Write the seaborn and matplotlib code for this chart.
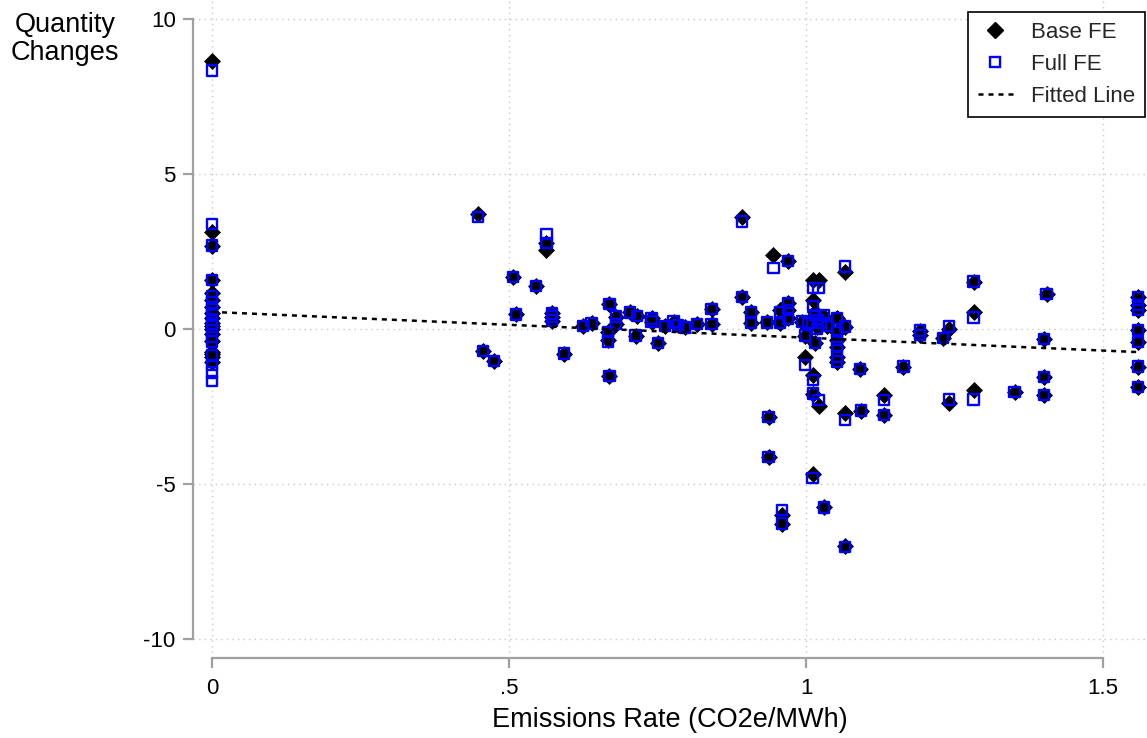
import numpy as np
import pandas as pd
import matplotlib
matplotlib.use("Agg")
import matplotlib.pyplot as plt
import seaborn as sns
from matplotlib.lines import Line2D

# ---------------- data ----------------
emissions_rate = [
    0, 0, 0, 0, 0, 0, 0, 0, 0, 0, 0, 0, 0, 0, 0, 0, 0, 0,
    0.448, 0.563, 0.563, 0.507, 0.545, 0.512, 0.572, 0.572, 0.572, 0.456,
    0.475, 0.593, 0.625, 0.639, 0.669, 0.680, 0.680, 0.667, 0.667, 0.669,
    0.704, 0.715, 0.713, 0.740, 0.740, 0.751, 0.763, 0.777, 0.785, 0.796,
    0.816, 0.841, 0.841,
    0.892, 0.945, 0.970, 1.066, 1.012, 1.021, 0.892, 0.907, 0.907, 0.934,
    0.956, 0.956, 0.970, 0.970, 0.970, 0.993, 1.004, 1.012, 1.015, 1.020,
    1.025, 1.030, 1.035, 1.018, 0.998, 0.998, 1.015, 1.012, 1.012, 1.021,
    1.052, 1.052, 1.052, 1.052, 1.052, 1.052, 1.066, 1.091, 1.164, 0.937,
    0.937, 1.011, 0.959, 0.959, 1.030, 1.066, 1.066, 1.092, 1.131, 1.131,
    1.192, 1.192, 1.241, 1.230, 1.282, 1.282, 1.405, 1.401, 1.401, 1.401,
    1.351, 1.282, 1.241, 1.559, 1.559, 1.559, 1.559, 1.559, 1.559, 1.559,
]
base_fe = [
    8.62, 3.14, 2.69, 1.58, 1.15, 0.95, 0.70, 0.50, 0.35, 0.20, 0.10, 0.00,
    -0.15, -0.40, -0.75, -0.90, -1.05, -0.80,
    3.70, 2.76, 2.55, 1.67, 1.39, 0.47, 0.53, 0.40, 0.27, -0.70,
    -1.02, -0.79, 0.10, 0.18, 0.81, 0.40, 0.16, -0.09, -0.35, -1.52,
    0.55, 0.42, -0.21, 0.34, 0.24, -0.44, 0.10, 0.24, 0.13, 0.05,
    0.16, 0.16, 0.65,
    3.62, 2.39, 2.20, 1.85, 1.58, 1.58, 1.02, 0.54, 0.20, 0.21,
    0.61, 0.20, 0.83, 0.61, 0.34, 0.24, 0.24, 0.94, 0.55, 0.30,
    0.15, 0.40, 0.10, 0.05, -0.21, -0.89, -0.46, -1.48, -2.08, -2.48,
    0.34, -0.09, -0.35, -0.57, -0.89, -1.05, 0.08, -1.30, -1.21, -2.83,
    -4.12, -4.66, -6.00, -6.27, -5.75, -7.00, -2.70, -2.63, -2.13, -2.77,
    -0.05, -0.20, 0.00, -0.30, 1.53, 0.56, 1.13, -0.32, -1.54, -2.13,
    -2.02, -1.97, -2.40, 1.04, 0.77, 0.61, -0.03, -0.43, -1.21, -1.86,
]
full_fe = [
    8.33, 3.38, 2.69, 1.58, 1.05, 0.85, 0.65, 0.45, 0.30, 0.18, 0.08, -0.05,
    -0.25, -0.40, -0.85, -1.15, -1.40, -1.67,
    3.60, 3.05, 2.76, 1.67, 1.39, 0.47, 0.50, 0.40, 0.27, -0.70,
    -1.02, -0.79, 0.10, 0.18, 0.81, 0.40, 0.16, -0.09, -0.40, -1.52,
    0.53, 0.42, -0.21, 0.34, 0.24, -0.44, 0.10, 0.24, 0.13, 0.05,
    0.16, 0.16, 0.65,
    3.46, 1.96, 2.20, 2.01, 1.31, 1.31, 1.02, 0.54, 0.20, 0.21,
    0.55, 0.20, 0.83, 0.61, 0.34, 0.24, 0.20, 0.75, 0.45, 0.30,
    0.20, 0.45, 0.10, 0.00, -0.21, -1.16, -0.46, -1.65, -2.08, -2.29,
    0.34, -0.09, -0.35, -0.57, -0.89, -1.05, 0.08, -1.30, -1.21, -2.83,
    -4.12, -4.80, -5.84, -6.27, -5.75, -7.02, -2.94, -2.63, -2.29, -2.77,
    -0.05, -0.20, 0.08, -0.30, 1.53, 0.37, 1.13, -0.32, -1.54, -2.13,
    -2.02, -2.27, -2.27, 1.04, 0.77, 0.61, -0.03, -0.43, -1.21, -1.86,
]
fit_intercept = 0.55
fit_slope = -0.83

x_ticks = [0, 0.5, 1, 1.5]
x_tick_labels = ["0", ".5", "1", "1.5"]
y_ticks = [-10, -5, 0, 5, 10]
y_tick_labels = ["-10", "-5", "0", "5", "10"]
legend_labels = ["Base FE", "Full FE", "Fitted Line"]

# ---------------- style ----------------
sns.set_theme(style="white")
plt.rcParams['font.family'] = ['Liberation Sans', 'DejaVu Sans']

W, H = 1147, 738
fig = plt.figure(figsize=(W / 100, H / 100), dpi=100)
ax = fig.add_axes([193 / W, 80 / H, 954 / W, 658 / H])

df = pd.DataFrame({"rate": emissions_rate, "base": base_fe, "full": full_fe})

BLUE = "#0000ff"
GRID = "#c8c8c8"
AXC = "#a0a0a0"

ax.set_xlim(-0.032, 1.574)
ax.set_ylim(-10.6, 10.6)
ax.set_xticks(x_ticks)
ax.set_xticklabels(x_tick_labels)
ax.set_yticks(y_ticks)
ax.set_yticklabels(y_tick_labels)
ax.grid(True, linestyle=(0, (1, 3)), color=GRID, linewidth=1.0)
ax.set_axisbelow(True)

sns.scatterplot(data=df, x="rate", y="base", marker="D", s=75, color="black",
                linewidth=0, ax=ax, zorder=3)
sns.scatterplot(data=df, x="rate", y="full", marker="s", s=55, facecolor="none",
                edgecolor=BLUE, linewidth=1.7, ax=ax, zorder=4)

xs = np.array([min(emissions_rate), max(emissions_rate)])
ax.plot(xs, fit_intercept + fit_slope * xs, color="black",
        linestyle=(0, (2, 2)), linewidth=1.8, zorder=5)

for s in ["top", "right"]:
    ax.spines[s].set_visible(False)
for s in ["left", "bottom"]:
    ax.spines[s].set_color(AXC)
    ax.spines[s].set_linewidth(1.6)
ax.spines["left"].set_bounds(-10, 10)
ax.spines["bottom"].set_bounds(0, 1.5)
ax.tick_params(axis="both", length=7.5, width=1.6, color=AXC, labelsize=16,
               left=True, bottom=True, labelcolor="black")
ax.tick_params(axis="x", pad=7)
ax.tick_params(axis="y", pad=5)

ax.set_xlabel("Emissions Rate (CO2e/MWh)", fontsize=19.5, labelpad=6, color="black")
ax.set_ylabel("")
fig.text(65 / W, 1 - 12 / H, "Quantity\nChanges", ha="center", va="top",
         fontsize=19.5, linespacing=1.1, color="black")

handles = [
    Line2D([], [], marker="D", color="black", linestyle="none", markersize=8.5),
    Line2D([], [], marker="s", markerfacecolor="none", markeredgecolor=BLUE,
           markeredgewidth=1.7, linestyle="none", markersize=7.2),
    Line2D([], [], color="black", linestyle=(0, (2, 2)), linewidth=1.8),
]
leg = ax.legend(handles, legend_labels, loc="upper right",
                bbox_to_anchor=(1145 / W, 1 - 12 / H), bbox_transform=fig.transFigure,
                borderaxespad=0, frameon=True, fancybox=False, fontsize=16,
                handlelength=1.6, handletextpad=0.8, labelspacing=0.5,
                borderpad=0.45)
leg.get_frame().set_edgecolor("black")
leg.get_frame().set_linewidth(1.2)
leg.get_frame().set_alpha(1)

fig.savefig("out.png", dpi=100, facecolor="white")
